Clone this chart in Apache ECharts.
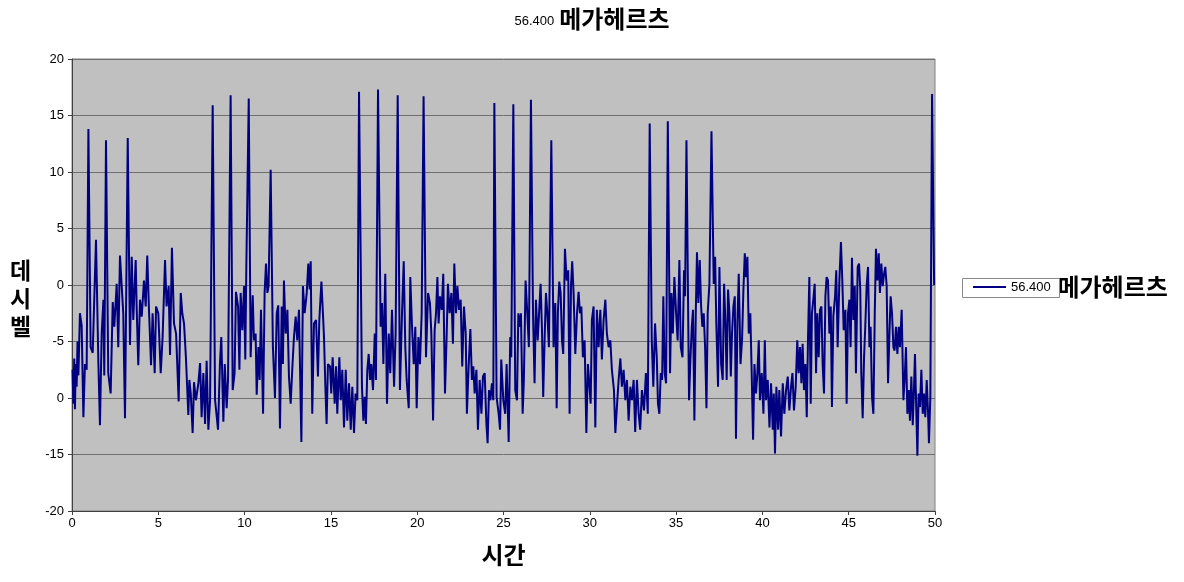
<!DOCTYPE html>
<html>
<head>
<meta charset="utf-8">
<script src="https://cdn.jsdelivr.net/npm/echarts@6/dist/echarts.min.js"></script>
<style>
html,body{margin:0;padding:0;background:#fff;}
#chart{width:1184px;height:582px;}
</style>
</head>
<body>
<div id="chart"></div>
<script>
const chartTitleNumber = '56.400';
const chartTitleUnit = '메가헤르츠';
const xAxisName = '시간';
const yAxisName = '데시벨';
const seriesName = '56.400 메가헤르츠';
const xTickValues = [0,5,10,15,20,25,30,35,40,45,50];
const yTickValues = [-20,-15,-10,-5,0,5,10,15,20];
const yTickLabels = ['-20','-15','0','-5','0','5','10','15','20'];

const times = [
0.03,0.08,0.13,0.17,0.22,0.27,0.32,0.37,0.46,0.56,0.66,0.75,0.85,0.95,1.08,1.20,1.39,1.53,1.62,1.72,1.82,1.87,1.97,2.10,2.24,2.36,2.45,2.59,2.68,2.78,2.88,2.97,3.07,3.23,3.36,3.46,3.55,3.69,3.75,3.84,3.94,4.04,4.17,4.27,4.36,4.46,4.58,4.67,4.79,4.87,5.00,5.14,5.25,5.39,5.48,5.60,5.68,5.79,5.91,6.03,6.18,6.30,6.39,6.49,6.60,6.74,6.80,6.88,6.99,7.07,7.18,7.32,7.42,7.51,7.61,7.71,7.80,7.90,8.00,8.15,8.29,
8.46,8.57,8.65,8.77,8.85,8.96,9.04,9.19,9.31,9.42,9.50,9.62,9.70,9.77,9.87,9.97,10.04,10.10,10.24,10.35,10.47,10.54,10.64,10.70,10.80,10.87,10.95,11.07,11.16,11.24,11.32,11.39,11.51,11.64,11.76,11.86,11.95,12.05,12.15,12.22,12.28,12.38,12.48,12.57,12.67,12.77,12.86,12.96,13.05,13.15,13.29,13.38,13.48,13.60,13.69,13.77,13.83,13.92,14.02,14.14,14.25,14.33,14.45,14.52,14.60,14.68,14.75,14.83,14.95,15.02,15.10,15.22,15.30,15.37,15.49,15.57,15.66,15.76,15.86,15.95,16.05,16.15,16.24,16.34,16.43,16.53,16.63,
16.80,16.88,16.96,17.03,17.11,17.19,17.27,17.34,17.44,17.54,17.61,17.73,17.88,17.96,18.04,18.15,18.25,18.35,18.44,18.54,18.66,18.75,18.87,19.00,19.12,19.22,19.31,19.39,19.51,19.60,19.70,19.80,19.89,19.97,20.07,20.16,20.26,20.37,20.51,20.63,20.74,20.82,20.92,21.01,21.09,21.17,21.24,21.32,21.42,21.51,21.61,21.71,21.78,21.88,21.98,22.07,22.15,22.25,22.33,22.42,22.52,22.61,22.71,22.81,22.88,22.98,23.08,23.17,23.25,23.33,23.43,23.52,23.62,23.72,23.81,23.91,24.01,24.08,24.16,24.24,24.33,24.41,24.47,24.60,24.72,24.80,24.87,24.99,
25.10,25.18,25.30,25.39,25.45,25.57,25.68,25.78,25.86,25.93,26.01,26.11,26.18,26.28,26.38,26.47,26.59,26.71,26.80,26.88,26.98,27.07,27.15,27.23,27.30,27.38,27.46,27.54,27.63,27.77,27.90,28.00,28.08,28.15,28.23,28.31,28.39,28.46,28.56,28.66,28.75,28.83,28.91,28.98,29.06,29.16,29.26,29.35,29.43,29.51,29.60,29.70,29.80,29.89,29.97,30.05,30.12,30.22,30.32,30.41,30.51,30.61,30.70,30.80,30.90,30.99,31.09,31.19,31.28,31.40,31.48,31.57,31.67,31.77,31.86,31.96,32.06,32.15,32.25,32.35,32.44,32.54,32.63,32.73,32.83,32.92,33.02,33.14,33.25,33.36,
33.47,33.59,33.68,33.78,33.88,33.95,34.03,34.11,34.19,34.26,34.34,34.42,34.52,34.65,34.73,34.81,34.90,35.00,35.09,35.19,35.27,35.37,35.46,35.52,35.60,35.75,35.83,35.91,35.98,36.06,36.14,36.21,36.29,36.37,36.45,36.52,36.60,36.68,36.76,36.83,36.93,37.05,37.18,37.26,37.33,37.43,37.51,37.61,37.70,37.78,37.86,37.93,38.01,38.09,38.17,38.24,38.32,38.40,38.47,38.55,38.63,38.73,38.82,38.90,38.98,39.05,39.13,39.21,39.30,39.38,39.46,39.54,39.63,39.71,39.79,39.86,39.96,40.06,40.14,40.21,40.31,40.41,40.50,40.60,40.66,40.73,40.81,40.91,40.98,41.08,41.18,41.27,41.37,41.47,41.56,41.66,
41.74,41.83,41.93,42.02,42.10,42.18,42.26,42.33,42.41,42.49,42.57,42.64,42.72,42.80,42.87,42.95,43.03,43.11,43.18,43.26,43.34,43.42,43.49,43.57,43.65,43.72,43.80,43.88,43.96,44.03,44.11,44.21,44.28,44.36,44.46,44.55,44.63,44.71,44.81,44.88,44.96,45.04,45.11,45.19,45.27,45.35,45.42,45.52,45.60,45.67,45.73,45.81,45.89,45.96,46.04,46.12,46.20,46.27,46.35,46.43,46.51,46.58,46.66,46.74,46.81,46.89,46.97,47.05,47.12,47.20,47.28,47.36,47.43,47.51,47.59,47.66,47.74,47.82,47.90,47.97,48.07,48.17,48.24,48.32,48.40,48.48,48.55,48.63,48.71,48.78,48.84,48.92,48.98,49.05,49.13,49.21,49.29,49.36,49.44,49.52,49.60,49.65,49.73,49.83,49.95
];

const decibels = [
-7.5,-10.5,-6.5,-11.0,-7.0,-9.0,-5.0,-8.0,-2.5,-3.6,-11.7,-7.0,-7.5,13.8,-5.5,-6.0,4.0,-7.0,-12.4,-4.3,-1.3,-8.0,12.8,-7.8,-9.6,-1.5,-3.7,0.1,-5.5,2.6,-0.1,-2.5,-11.8,13.0,-5.3,2.5,-3.1,2.2,-2.2,-7.1,-1.3,-2.8,0.4,-1.9,2.6,-2.2,-7.1,-2.5,-7.8,-1.9,-2.5,-7.8,-4.6,2.2,-1.9,-0.1,-6.2,3.3,-3.4,-4.3,-10.3,-0.7,-2.5,-3.4,-6.4,-11.5,-8.4,-9.6,-13.1,-8.6,-10.2,-8.7,-6.9,-11.7,-7.8,-12.3,-6.7,-12.8,-10.2,15.9,-10.2,
-12.8,-7.0,-4.6,-12.1,-7.0,-10.9,-8.4,16.8,-9.3,-7.8,-0.6,-1.9,-7.5,-0.7,-4.0,-0.1,-6.6,1.6,16.5,-6.4,-0.9,-4.9,-4.3,-9.7,-5.5,-8.4,-2.2,-11.4,-0.7,1.9,-0.7,-0.1,10.2,-5.5,-10.0,-2.5,-1.8,-12.7,-1.9,-7.0,0.4,-4.3,-2.2,-8.1,-10.5,-7.2,-4.6,-2.8,-4.9,-2.2,-13.9,-0.1,-2.5,-0.7,1.9,-0.4,2.1,-11.4,-3.4,-3.1,-8.1,-3.1,0.3,-1.9,-4.6,-9.0,-12.3,-7.0,-7.2,-9.6,-6.4,-10.5,-7.2,-11.4,-6.4,-10.2,-7.5,-12.6,-7.5,-12.0,-8.7,-12.8,-9.0,-13.1,-9.6,-10.2,17.1,
-9.0,-12.0,-9.9,-12.3,-7.5,-6.1,-8.4,-7.0,-9.3,-4.3,-8.4,17.3,-3.7,-1.6,-7.0,1.0,-10.5,-4.3,-7.8,-2.2,-9.0,-4.3,16.8,-9.3,-2.5,2.1,-5.5,-8.4,-10.9,0.7,-3.7,-7.0,-3.7,-10.9,-4.6,-7.0,-2.5,16.7,-6.4,-0.7,-1.6,-4.3,-12.0,-4.0,-2.5,0.7,-3.4,-1.0,-2.2,1.0,-9.6,-4.3,0.1,-2.5,-0.7,-5.2,1.9,-2.5,-0.1,-2.2,-1.3,-7.2,-1.9,-4.3,-11.4,-7.2,-3.9,-8.4,-7.2,-9.6,-7.5,-12.8,-8.4,-11.4,-8.1,-7.8,-12.3,-14.0,-9.3,-10.2,-8.7,-10.2,16.1,-9.9,-11.4,-12.8,-6.6,-10.2,
-11.4,-7.0,-13.9,-4.6,-6.4,16.0,-9.3,-10.2,-2.5,-3.7,-2.5,-11.4,-8.4,0.4,-2.5,-5.5,16.4,-2.5,-8.7,-1.3,-4.9,-2.2,0.1,-4.0,-9.9,-4.9,-0.7,-2.5,-5.5,12.8,-5.5,-1.6,-10.9,-2.5,0.3,-0.7,-4.9,-6.1,3.2,0.4,1.3,-11.4,-0.1,2.1,-0.7,-6.1,-2.5,-0.6,-2.5,-1.9,-6.4,-4.9,-13.1,-7.0,-8.7,-10.5,-3.1,-1.9,-12.6,-2.2,-5.5,-2.2,-6.6,-3.1,-1.3,-4.3,-5.5,-4.9,-7.5,-9.3,-13.1,-10.8,-8.4,-6.5,-9.0,-7.5,-10.2,-8.4,-12.0,-9.0,-10.2,-8.4,-13.0,-8.4,-11.4,-12.8,-9.3,-11.1,-7.8,-11.4,
14.3,-4.9,-9.0,-3.4,-6.4,-10.5,-11.4,-7.8,-8.4,-1.0,-7.8,-8.7,14.5,-7.8,-0.7,-4.3,0.7,-2.5,-4.9,2.2,-5.5,-6.4,1.3,-1.0,12.8,-10.2,-6.6,-3.7,-2.2,-12.0,-2.5,2.9,-1.6,2.2,-1.9,-3.7,-2.5,-5.5,-10.9,-2.5,0.1,13.6,0.1,2.5,-3.4,-9.0,1.6,-7.0,-8.4,0.1,-3.4,-8.4,-0.4,-2.5,-8.1,-4.3,-1.9,-1.0,-13.6,-3.4,1.0,-7.0,-4.9,-0.4,2.8,0.7,2.5,-4.3,-2.5,-7.8,-13.7,-7.0,-9.6,-7.8,-4.9,-10.2,-7.8,-11.4,-4.9,-10.2,-8.4,-12.6,-8.7,-12.8,-9.6,-14.9,-9.0,-12.8,-9.3,-13.4,-8.7,-11.4,-9.3,-8.1,-11.1,-9.0,
-7.8,-11.1,-9.0,-4.9,-7.8,-5.5,-8.7,-5.2,-9.3,-7.0,-11.7,-4.9,0.7,-10.5,-2.5,-1.3,0.1,-7.8,-2.5,-6.4,-2.2,-1.9,-7.0,-9.6,-1.0,0.7,0.4,-4.3,-1.9,-10.8,-2.8,-1.0,1.3,-5.5,0.4,3.8,0.4,-4.0,-2.2,-10.5,-2.5,-1.3,-5.5,2.4,-3.1,-0.1,-7.8,1.6,1.9,-0.4,-7.8,-11.8,-6.4,-3.7,-0.1,1.6,-5.5,-3.7,-9.9,-11.4,-2.5,3.2,0.4,2.8,-0.7,1.9,-0.1,1.0,1.6,-0.1,-8.7,-4.3,-1.0,-2.5,-5.5,-5.8,-3.7,-6.1,-3.7,-5.5,-2.2,-10.2,-8.4,-5.5,-11.4,-9.3,-12.0,-8.1,-12.4,-9.3,-6.1,-11.4,-15.1,-9.6,-10.8,-7.5,-11.4,-9.6,-11.7,-8.4,-11.4,-14.0,-9.9,16.9,0.0
];

const seriesData = times.map((t, i) => [t, decibels[i]]);

const chart = echarts.init(document.getElementById('chart'), null, {renderer: 'canvas'});
const labelFont = 'Liberation Sans, Arial, sans-serif';
const cjkFont = '"Noto Sans CJK KR", "Noto Sans", sans-serif';

chart.setOption({
  animation: false,
  backgroundColor: '#ffffff',
  title: {
    text: '{n|' + chartTitleNumber + '} {u|' + chartTitleUnit + '}',
    left: 'center',
    top: 2,
    textStyle: {
      rich: {
        n: {fontFamily: labelFont, fontSize: 13, fontWeight: 'normal', color: '#000', verticalAlign: 'bottom', padding: [0,0,3,0]},
        u: {fontFamily: cjkFont, fontSize: 24, fontWeight: 'bold', color: '#000'}
      }
    }
  },
  legend: {
    show: true,
    left: 968,
    top: 270,
    icon: 'rect',
    itemWidth: 33,
    itemHeight: 2,
    itemGap: 0,
    data: [seriesName],
    formatter: function () {
      return '{n|' + chartTitleNumber + '}  {u|' + chartTitleUnit + '}';
    },
    textStyle: {
      rich: {
        n: {fontFamily: labelFont, fontSize: 13, fontWeight: 'normal', color: '#000'},
        u: {fontFamily: cjkFont, fontSize: 24, fontWeight: 'bold', color: '#000'}
      }
    }
  },
  graphic: [
    {
      type: 'rect',
      left: 960,
      top: 276,
      shape: {width: 97, height: 19},
      style: {fill: 'none', stroke: '#888', lineWidth: 1},
      silent: true,
      z: 100
    },
    {
      type: 'text',
      left: 10,
      top: 256,
      style: {
        text: yAxisName.split('').join('\n'),
        font: 'bold 23px "Noto Sans CJK KR", sans-serif',
        lineHeight: 28,
        fill: '#000',
        align: 'left'
      }
    }
  ],
  grid: {
    left: 72,
    right: 249,
    top: 59,
    bottom: 71,
    show: true,
    backgroundColor: '#c0c0c0',
    borderColor: '#808080',
    borderWidth: 1
  },
  xAxis: {
    type: 'value',
    min: xTickValues[0],
    max: xTickValues[xTickValues.length - 1],
    interval: 5,
    name: xAxisName,
    nameLocation: 'middle',
    nameGap: 32,
    nameTextStyle: {fontFamily: cjkFont, fontSize: 24, fontWeight: 'bold', color: '#000'},
    axisLine: {show: true, onZero: false, lineStyle: {color: '#404040', width: 1}},
    axisTick: {show: true, inside: false, length: 4, lineStyle: {color: '#404040'}},
    axisLabel: {fontFamily: labelFont, fontSize: 13, color: '#000', margin: 6},
    splitLine: {show: false}
  },
  yAxis: {
    type: 'value',
    min: yTickValues[0],
    max: yTickValues[yTickValues.length - 1],
    interval: 5,
    axisLine: {show: true, onZero: false, lineStyle: {color: '#404040', width: 1}},
    axisTick: {show: true, inside: false, length: 4, lineStyle: {color: '#404040'}},
    axisLabel: {
      fontFamily: labelFont, fontSize: 13, color: '#000', margin: 8,
      formatter: function (v) {
        const i = yTickValues.indexOf(v);
        return i >= 0 ? yTickLabels[i] : '';
      }
    },
    splitLine: {show: true, lineStyle: {color: '#6e6e6e', width: 1}}
  },
  series: [{
    name: seriesName,
    type: 'line',
    data: seriesData,
    showSymbol: false,
    symbol: 'none',
    smooth: false,
    lineStyle: {color: '#000080', width: 2},
    itemStyle: {color: '#000080'}
  }]
});
</script>
</body>
</html>
